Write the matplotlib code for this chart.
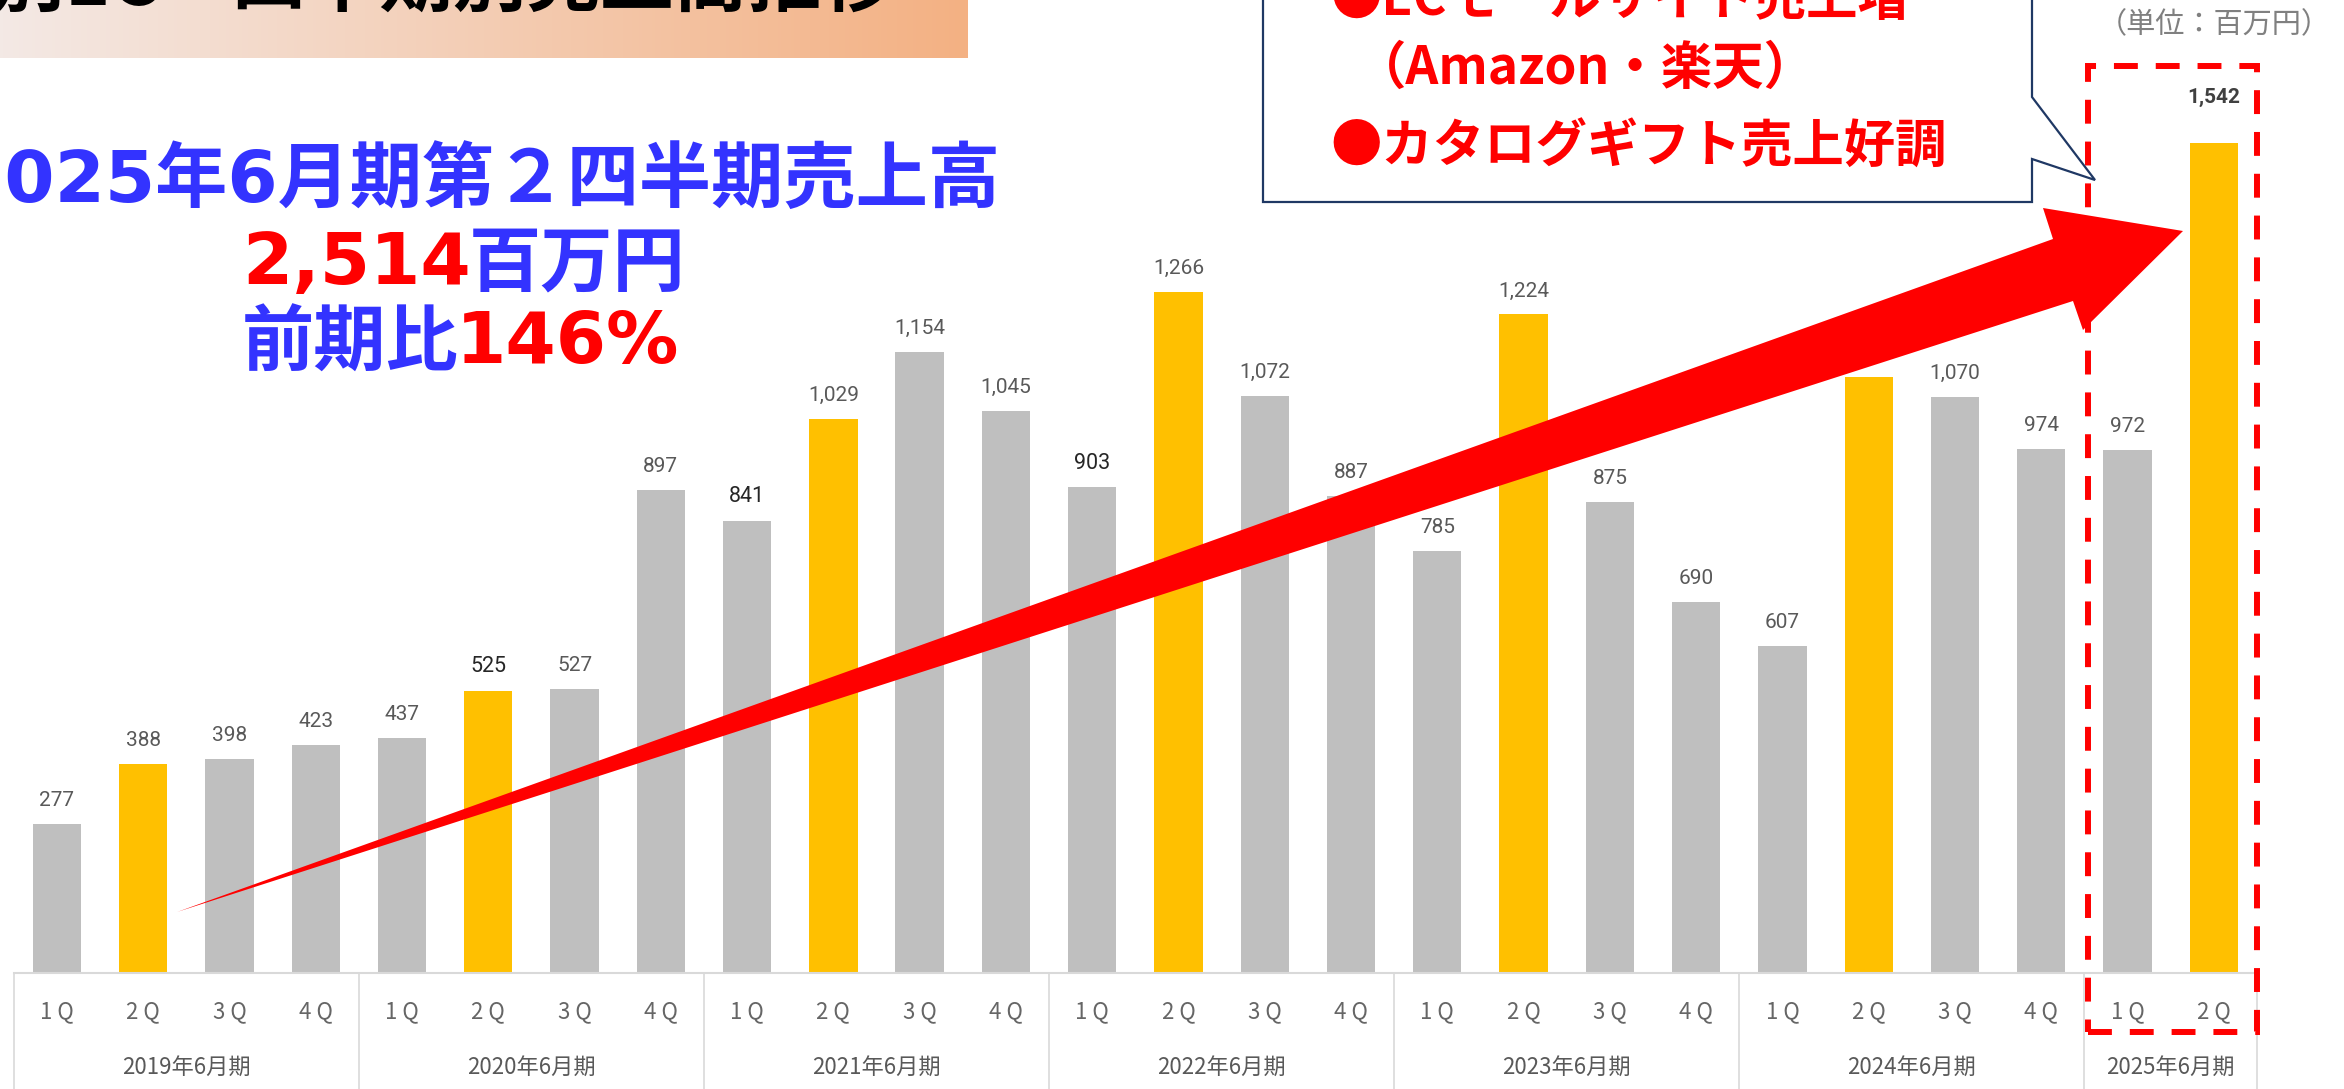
import matplotlib.pyplot as plt
import numpy as np
from matplotlib.patches import Polygon, Rectangle

plt.rcParams["font.family"] = ["Noto Sans CJK JP", "DejaVu Sans"]

# data
years = ["2019年6月期", "2020年6月期", "2021年6月期", "2022年6月期",
         "2023年6月期", "2024年6月期", "2025年6月期"]
quarters_in_year = [4, 4, 4, 4, 4, 4, 2]
quarter_names = ["1 Q", "2 Q", "3 Q", "4 Q"]
sales = [277, 388, 398, 423,
         437, 525, 527, 897,
         841, 1029, 1154, 1045,
         903, 1266, 1072, 887,
         785, 1224, 875, 690,
         607, 1108, 1070, 974,
         972, 1542]
dark_label_idx = [5, 8, 12]
latest_idx = 25

W, H = 2344, 1089


def fx(px):
    return px / W


def fy(py):
    return 1 - py / H


fig = plt.figure(figsize=(W / 100, H / 100), dpi=100)

# main bar chart
ax = fig.add_axes([fx(13.7), fy(973), (2257 - 13.7) / W, 973 / H])
ax.patch.set_alpha(0)

labels = []
for n in quarters_in_year:
    labels += quarter_names[:n]
colors = ["#ffc000" if q == "2 Q" else "#bfbfbf" for q in labels]

x = np.arange(len(sales))
ax.bar(x, sales, width=0.56, color=colors, zorder=2)
ax.set_xlim(-0.5, len(sales) - 0.5)
ax.set_ylim(0, 973 / 0.538)
for side in ["top", "left", "right"]:
    ax.spines[side].set_visible(False)
ax.spines["bottom"].set_color("#d9d9d9")
ax.spines["bottom"].set_linewidth(1.5)
ax.set_xticks([])
ax.set_yticks([])

for i, v in enumerate(sales):
    if i == latest_idx:
        ax.annotate(f"{v:,}", (i, v), xytext=(0, 29), textcoords="offset points",
                    ha="center", va="baseline", fontsize=15, fontweight="bold",
                    color="#404040", family="Roboto")
    elif i in dark_label_idx:
        ax.annotate(f"{v:,}", (i, v), xytext=(0, 13), textcoords="offset points",
                    ha="center", va="baseline", fontsize=15.5,
                    color="#262626", family="Roboto")
    else:
        ax.annotate(f"{v:,}", (i, v), xytext=(0, 13), textcoords="offset points",
                    ha="center", va="baseline", fontsize=15,
                    color="#595959", family="Roboto")

# category table under the axis
tr = ax.get_xaxis_transform()
start = 0
bounds = [-0.5]
for year, n in zip(years, quarters_in_year):
    for k in range(n):
        ax.text(start + k, -0.040, quarter_names[k], transform=tr,
                ha="center", va="center", fontsize=16, color="#666666")
    ax.text(start + (n - 1) / 2, -0.097, year, transform=tr,
            ha="center", va="center", fontsize=16, color="#595959")
    start += n
    bounds.append(start - 0.5)
for b in bounds:
    ax.plot([b, b], [0, -0.13], transform=tr, color="#d9d9d9",
            lw=1.2, clip_on=False)

# title banner with gradient
bax = fig.add_axes([0, fy(58), fx(968), 58 / H])
left_c = np.array([243, 233, 229]) / 255
right_c = np.array([244, 177, 131]) / 255
t = np.linspace(0, 1, 300)[:, None]
grad = (left_c * (1 - t) + right_c * t)[None, :, :]
bax.imshow(grad, aspect="auto", extent=[0, 1, 0, 1])
bax.axis("off")
fig.text(fx(895), fy(-17), "別EC　四半期別売上高推移", ha="right", va="center",
         fontsize=53, fontweight="bold", color="black")

# headline
blue = "#3333ff"
red = "#ff0000"
digits_font = ["DejaVu Sans", "Noto Sans CJK JP"]
fig.text(fx(1000), fy(182), "2025年6月期第２四半期売上高", ha="right",
         va="center", fontsize=52, fontweight="bold", color=blue,
         family=digits_font)
fig.text(fx(242), fy(264), "2,514", ha="left", va="center",
         fontsize=52, fontweight="bold", color=red, family=digits_font)
fig.text(fx(469), fy(264), "百万円", ha="left", va="center",
         fontsize=52, fontweight="bold", color=blue)
fig.text(fx(242), fy(344), "前期比", ha="left", va="center",
         fontsize=52, fontweight="bold", color=blue)
fig.text(fx(456), fy(344), "146%", ha="left", va="center",
         fontsize=52, fontweight="bold", color=red, family=digits_font)

# unit
fig.text(fx(2098), fy(25), "（単位：百万円）", ha="left", va="center",
         fontsize=21, color="#808080")

# dashed highlight box
fig.add_artist(Rectangle((fx(2088), fy(1032)), (2257 - 2088) / W, (1032 - 66) / H,
                         transform=fig.transFigure, fill=False, edgecolor=red,
                         lw=4.3, ls=(0, (4, 3)), zorder=4))

# big trend arrow
arrow_px = [(177, 912), (2073, 301), (2083, 330), (2183, 231),
            (2043, 208), (2053, 239)]
fig.add_artist(Polygon([(fx(a), fy(b)) for a, b in arrow_px], closed=True,
                       transform=fig.transFigure, facecolor=red,
                       edgecolor="none", zorder=5))

# callout
callout_px = [(1263, -10), (2032, -10), (2032, 97), (2095, 180),
              (2032, 159), (2032, 202), (1263, 202)]
fig.add_artist(Polygon([(fx(a), fy(b)) for a, b in callout_px], closed=True,
                       transform=fig.transFigure, facecolor="white",
                       edgecolor="#1f3864", lw=1.6, zorder=6))
fig.text(fx(1330), fy(0), "●ECモールサイト売上増", ha="left", va="center",
         fontsize=37, fontweight="bold", color=red, zorder=7)
fig.text(fx(1355), fy(68), "（Amazon・楽天）", ha="left", va="center",
         fontsize=37, fontweight="bold", color=red, zorder=7)
fig.text(fx(1330), fy(147), "●カタログギフト売上好調", ha="left", va="center",
         fontsize=37, fontweight="bold", color=red, zorder=7)

fig.savefig("out.png", dpi=100)
plt.close(fig)
